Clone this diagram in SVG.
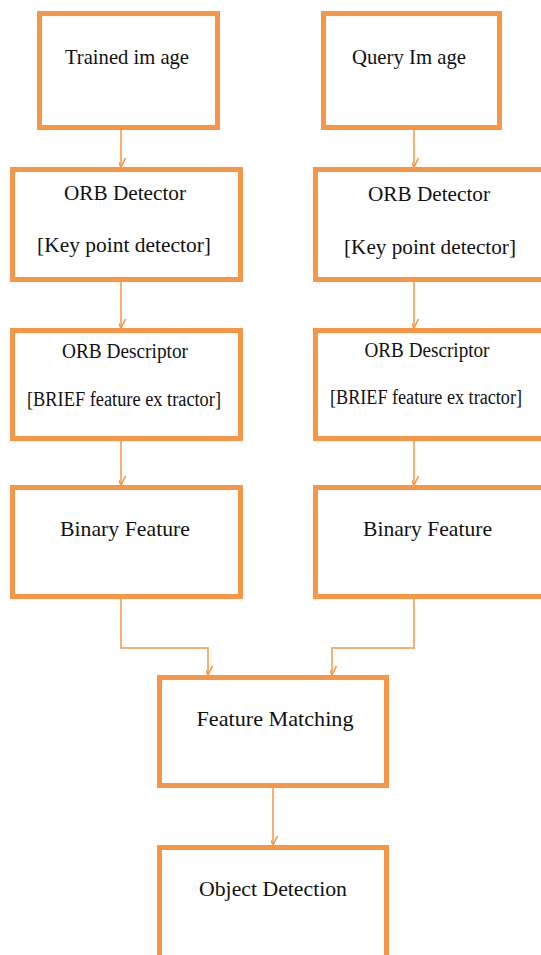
<svg xmlns="http://www.w3.org/2000/svg" width="541" height="955" viewBox="0 0 541 955">
  <style>
    .box { fill: #ffffff; stroke: #F79646; stroke-width: 5; }
    .lbl { font-family: "Liberation Serif", "Times New Roman", serif; font-size: 22px; fill: #111111; text-anchor: middle; }
    .lbl.long { font-size: 20px; }
    .wire { fill: none; stroke: #F79646; stroke-width: 1.5; marker-end: url(#arrow); }
  </style>
  <defs>
    <marker id="arrow" markerUnits="userSpaceOnUse" markerWidth="18" markerHeight="18" viewBox="-9 -16 18 18" refX="0" refY="0" orient="auto-start-reverse">
      <path d="M-14,-7 L0,0 L-14,7" fill="none" stroke="#F79646" stroke-width="1.5"/>
    </marker>
  </defs>
  <rect width="541" height="955" fill="#ffffff"/>

  <g id="connectors">
    <path class="wire" d="M121,130 V167"/>
    <path class="wire" d="M414,130 V167"/>
    <path class="wire" d="M121,282 V328"/>
    <path class="wire" d="M414,282 V328"/>
    <path class="wire" d="M121,441 V485"/>
    <path class="wire" d="M414,441 V485"/>
    <path class="wire" d="M121,599 V648 H208 V675"/>
    <path class="wire" d="M414,599 V648 H332 V675"/>
    <path class="wire" d="M273,788 V845"/>
  </g>

  <g id="trained-image">
    <rect class="box" x="39.5" y="13.5" width="178" height="114"/>
    <text class="lbl" x="127" y="64" textLength="124" lengthAdjust="spacingAndGlyphs">Trained im age</text>
  </g>
  <g id="query-image">
    <rect class="box" x="323.5" y="13.5" width="176" height="114"/>
    <text class="lbl" x="409" y="64" textLength="114" lengthAdjust="spacingAndGlyphs">Query Im age</text>
  </g>

  <g id="orb-detector-left">
    <rect class="box" x="12.5" y="169.5" width="228" height="110"/>
    <text class="lbl" x="125" y="200" textLength="122" lengthAdjust="spacingAndGlyphs">ORB Detector</text>
    <text class="lbl" x="124" y="252" textLength="174" lengthAdjust="spacingAndGlyphs">[Key point detector]</text>
  </g>
  <g id="orb-detector-right">
    <rect class="box" x="315.5" y="169.5" width="240" height="110"/>
    <text class="lbl" x="429" y="201" textLength="122" lengthAdjust="spacingAndGlyphs">ORB Detector</text>
    <text class="lbl" x="430" y="254" textLength="172" lengthAdjust="spacingAndGlyphs">[Key point detector]</text>
  </g>

  <g id="orb-descriptor-left">
    <rect class="box" x="12.5" y="330.5" width="228" height="108"/>
    <text class="lbl" x="125" y="358" textLength="126" lengthAdjust="spacingAndGlyphs">ORB Descriptor</text>
    <text class="lbl long" x="124" y="406" textLength="194" lengthAdjust="spacingAndGlyphs">[BRIEF feature ex tractor]</text>
  </g>
  <g id="orb-descriptor-right">
    <rect class="box" x="315.5" y="330.5" width="240" height="108"/>
    <text class="lbl" x="427" y="357" textLength="125" lengthAdjust="spacingAndGlyphs">ORB Descriptor</text>
    <text class="lbl long" x="426" y="404" textLength="192" lengthAdjust="spacingAndGlyphs">[BRIEF feature ex tractor]</text>
  </g>

  <g id="binary-feature-left">
    <rect class="box" x="12.5" y="487.5" width="228" height="109"/>
    <text class="lbl" x="125" y="536" textLength="130" lengthAdjust="spacingAndGlyphs">Binary Feature</text>
  </g>
  <g id="binary-feature-right">
    <rect class="box" x="315.5" y="487.5" width="240" height="109"/>
    <text class="lbl" x="427.5" y="536" textLength="129" lengthAdjust="spacingAndGlyphs">Binary Feature</text>
  </g>

  <g id="feature-matching">
    <rect class="box" x="159.5" y="677.5" width="227" height="108"/>
    <text class="lbl" x="275" y="726" textLength="157" lengthAdjust="spacingAndGlyphs">Feature Matching</text>
  </g>

  <g id="object-detection">
    <rect class="box" x="159.5" y="847.5" width="227" height="120"/>
    <text class="lbl" x="273" y="896" textLength="148" lengthAdjust="spacingAndGlyphs">Object Detection</text>
  </g>
</svg>
